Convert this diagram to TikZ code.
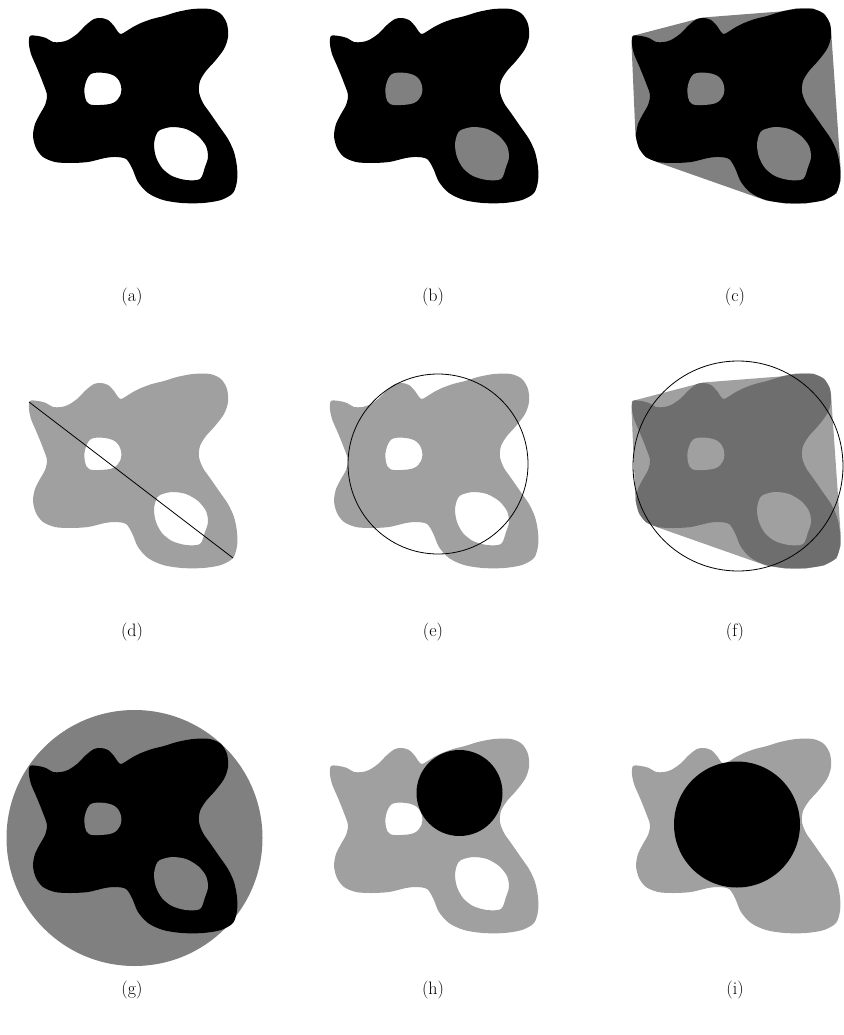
\documentclass[tikz,border=0pt]{standalone}
\begin{document}
\begin{tikzpicture}[x=1pt,y=-1pt,
  lbl/.style={font=\fontsize{18}{21}\selectfont, inner sep=0pt},
  ring/.style={draw=black, line width=0.8pt}]
\definecolor{gmid}{HTML}{808080}
\definecolor{glight}{HTML}{A0A0A0}
\definecolor{gdark}{HTML}{6E6E6E}
\def\outerP{plot[smooth cycle, tension=0.5] coordinates {(30,36) (38,36) (46,38) (53,42) (61,42) (68,40) (77,34) (86,25) (94,19) (101,18) (108,20) (114,26) (118,32) (121,34) (125,32) (133,27) (141,23) (152,19) (164,16) (177,12) (193,9) (210,9) (221,14) (227,24) (228,37) (224,49) (215,61) (206,71) (200,81) (199,92) (203,103) (210,113) (219,126) (228,139) (234,152) (237,167) (237,181) (233,193) (221,200) (203,203) (182,203) (163,200) (148,193) (138,182) (132,168) (126,159) (116,157) (105,158) (88,162) (70,163) (55,162) (43,157) (36,148) (33,136) (35,124) (40,114) (45,105) (47,95) (43,83) (37,68) (31,54) (29,44)}}
\def\holeA{plot[smooth cycle, tension=0.6] coordinates {(91,74) (105,73) (116,77) (121,86) (120,96) (113,103) (100,105) (89,104) (85,97) (85,85)}}
\def\holeB{plot[smooth cycle, tension=0.5] coordinates {(160,130) (172,127) (186,129) (198,136) (206,146) (208,157) (205,167) (200,179) (186,180) (172,176) (162,168) (156,157) (154,145) (156,135)}}
\def\hullP{(29,36) -- (100,17.5) -- (177,11.5) -- (193,8.5) -- (210,8.5) -- (221,13.5) -- (227,23.5) -- (228.5,37) -- (237.5,167) -- (237.5,181) -- (233.5,193.5) -- (221,200.5) -- (203,203.5) -- (182,203.5) -- (163,200.5) -- (55,162.5) -- (43,157.5) -- (36,148.5) -- (32.5,136) -- (28.5,44) -- cycle}
\useasboundingbox (0,0) rectangle (843,1035);
% (a)
\begin{scope}
  \fill[black, even odd rule] \outerP \holeA \holeB;
\end{scope}
% (b)
\begin{scope}[shift={(301,0)}]
  \fill[black] \outerP;
  \fill[gmid] \holeA \holeB;
\end{scope}
% (c)
\begin{scope}[shift={(603,0)}]
  \fill[gmid] \hullP;
  \fill[black] \outerP;
  \fill[gmid] \holeA \holeB;
\end{scope}
% (d)
\begin{scope}[shift={(0,365)}]
  \fill[glight, even odd rule] \outerP \holeA \holeB;
  \coordinate (d1) at (29,37);
  \coordinate (d2) at (233,193);
  \draw[black, line width=0.8pt] (d1) -- (d2);
\end{scope}
% (e)
\begin{scope}[shift={(301,365)}]
  \fill[glight, even odd rule] \outerP \holeA \holeB;
  \draw[ring] (137,99) circle[radius=90];
\end{scope}
% (f)
\begin{scope}[shift={(603,365)}]
  \fill[glight] \hullP;
  \fill[gdark] \outerP;
  \fill[glight] \holeA \holeB;
  \draw[ring] (135,101) circle[radius=105];
\end{scope}
% (g)
\begin{scope}[shift={(0,730)}]
  \fill[gmid] (134.5,108) circle[radius=128];
  \fill[black] \outerP;
  \fill[gmid] \holeA \holeB;
\end{scope}
% (h)
\begin{scope}[shift={(301,730)}]
  \fill[glight, even odd rule] \outerP \holeA \holeB;
  \fill[black] (158.5,63) circle[radius=43];
\end{scope}
% (i)
\begin{scope}[shift={(603,730)}]
  \fill[glight] \outerP;
  \fill[black] (134,94.5) circle[radius=63];
\end{scope}
% labels
\node[lbl] (la) at (132,297) {(a)};
\node[lbl] (lb) at (433,297) {(b)};
\node[lbl] (lc) at (735,297) {(c)};
\node[lbl] (ld) at (132,632) {(d)};
\node[lbl] (le) at (433,632) {(e)};
\node[lbl] (lf) at (735,632) {(f)};
\node[lbl] (lg) at (132,990) {(g)};
\node[lbl] (lh) at (433,990) {(h)};
\node[lbl] (li) at (735,990) {(i)};
\end{tikzpicture}
\end{document}
